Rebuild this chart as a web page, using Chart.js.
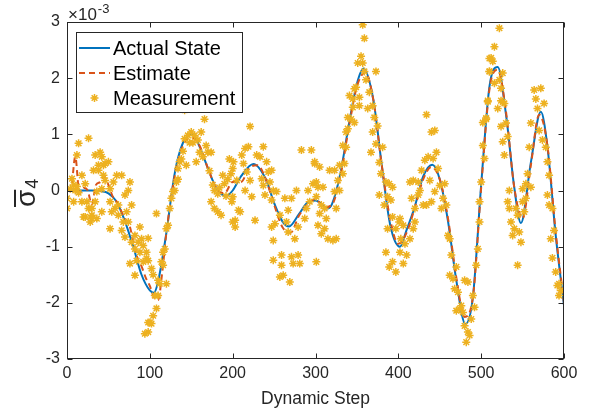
<!DOCTYPE html>
<html lang="en">
<head>
    <meta charset="utf-8">
    <title>State estimate</title>
    <script src="https://cdn.jsdelivr.net/npm/chart.js"></script>
    <style>
        body { margin: 0; background: #fff; }
    </style>
</head>
<body>
    <canvas id="stateChart" width="590" height="418"></canvas>
    <script>
        // values are in units of 1e-3
        const xTicks = [0, 100, 200, 300, 400, 500, 600];
        const yTicks = [-3, -2, -1, 0, 1, 2, 3];
        const legendLabels = ['Actual State', 'Estimate', 'Measurement'];

        const stateSteps = [0, 10, 20, 30, 40, 50, 60, 70, 80, 90, 100, 105, 110, 120, 130, 140, 152, 160, 170, 180,
            192, 200, 210, 225, 240, 250, 260, 268, 280, 290, 300, 315, 320, 330, 340, 350, 358, 370, 380, 390,
            402, 410, 420, 430, 441, 450, 460, 470, 481, 490, 500, 510, 520, 530, 540, 548, 560, 572, 580, 590, 600];
        const stateValues = [0, 0, 0, 0, -0.01, -0.05, -0.2, -0.55, -1.0, -1.5, -1.78, -1.82, -1.62, -0.75, 0.3, 0.85, 1.0, 0.78, 0.4, 0.05,
            -0.1, 0.0, 0.25, 0.47, 0.2, -0.22, -0.55, -0.64, -0.42, -0.22, -0.18, -0.32, -0.24, 0.3, 1.15, 1.9, 2.17, 1.6, 0.45, -0.6,
            -1.0, -0.7, -0.28, 0.25, 0.46, 0.2, -0.55, -1.6, -2.38, -1.9, 0.1, 1.85, 2.2, 1.35, 0.05, -0.58, 0.5, 1.4, 0.78, -0.8, -2.05];

        const estSteps = [0, 5, 10, 15, 20, 25, 30, 35, 40, 45, 50, 55, 60, 65, 70, 75, 80, 85, 90, 95, 100, 105, 110, 115, 120,
            130, 140, 150, 160, 170, 180, 190, 200, 210, 220, 230, 240, 250, 260, 270, 280, 290, 300, 310, 320, 330, 340, 350,
            360, 370, 380, 390, 400, 410, 420, 430, 440, 450, 460, 470, 480, 490, 500, 510, 520, 530, 540, 550, 560, 570, 580, 590, 600];
        const estValues = [0.0, 0.05, 0.6, -0.05, 0.05, 0.0, -0.25, 0.1, 0.15, 0.25, 0.1, -0.1, -0.2, -0.35, -0.5, -0.6, -0.9, -1.2, -1.35, -1.55, -1.7, -1.9, -1.95, -1.45, -0.75,
            0.25, 0.8, 0.95, 0.8, 0.4, 0.05, -0.05, 0.15, 0.15, 0.4, 0.45, 0.2, -0.25, -0.65, -0.75, -0.45, -0.25, -0.15, -0.3, -0.25, 0.25, 1.1, 1.85,
            2.1, 1.6, 0.45, -0.5, -0.95, -0.75, -0.3, 0.2, 0.42, 0.2, -0.5, -1.55, -2.25, -1.9, 0.05, 1.8, 2.15, 1.4, 0.05, -0.5, 0.45, 1.35, 0.8, -0.75, -2.0];

        const measSteps = [
            0, 0, 6, 8, 10, 14, 12, 26, 18, 22, 24, 20, 30, 34, 32, 38, 40, 42, 46, 44, 50, 36, 30, 36, 42, 28, 52, 56, 60, 66,
            76, 74, 70, 58, 62, 52, 66, 70, 88, 78, 82, 84, 88, 76, 82, 92, 98, 94, 98,
            4, 8, 12, 14, 18, 22, 26, 30, 34, 42, 46, 38, 44, 52, 54, 62, 68, 72, 74, 78, 82, 86, 90, 92, 96,
            96, 98, 102, 106, 110, 112, 108, 100, 98, 102, 104, 116, 120, 114, 118, 120, 122, 108, 124, 126, 128, 132, 134, 136, 138,
            142, 146, 150, 154, 162, 166, 142, 144, 156, 160, 170, 174, 168, 178, 182, 190, 188, 196, 200, 174, 178, 182, 186, 200, 200,
            104, 110, 116, 130, 134, 140, 148, 152, 158, 164, 172, 176, 184, 192, 194, 198,
            199, 203, 203, 201, 205, 207, 209, 211, 215, 219, 221, 213, 217, 215, 221, 223, 227, 229, 233, 237, 235, 237, 241, 243, 247,
            239, 245, 249, 253, 247, 247, 249, 249, 251, 257, 259, 259, 261, 257, 263, 267, 265, 267, 269, 271, 271, 273, 275, 279, 281,
            277, 279, 283, 287, 289, 291, 295, 297, 299, 293, 301,
            299, 305, 303, 309, 301, 301, 307, 305, 311, 303, 307, 313, 311, 315, 321, 325, 317, 323, 323, 325, 329, 327, 329, 333, 335,
            333, 337, 339, 337, 339, 343, 345, 347, 341, 347, 349, 345, 353, 353, 351, 355, 357, 359, 361, 357, 359, 363, 365, 369, 373,
            371, 375, 369, 373, 367, 381, 377, 379, 377, 385, 389, 393, 387, 391, 383, 393, 387, 397, 401, 403, 385, 389, 393, 397,
            402, 406, 402, 410, 406, 408, 414, 418, 420, 414, 418, 416, 420, 424, 424, 428, 426, 430, 434, 434, 432, 436, 438, 440, 440,
            444, 442, 446, 444, 448, 450, 452, 454, 456, 458, 460, 462, 464, 462, 466, 468, 470, 472, 470, 474, 476, 478, 480, 484, 480,
            484, 482, 486, 488, 490, 492, 494, 496, 498, 498, 500, 502, 502, 506, 508, 510, 510,
            504, 506, 508, 512, 514, 510, 516, 522, 516, 522, 524, 524, 520, 526, 526, 528, 524, 530, 532, 526, 528, 534, 532, 534, 536,
            538, 540, 542, 544, 546, 548, 544, 550, 552, 550, 554, 554, 556, 558, 560, 560, 564, 566, 568, 572, 570, 574, 576, 578, 580,
            582, 580, 582, 586, 584, 588, 586, 590, 592, 594, 596, 594];
        const measValues = [
            -0.32, -0.14, 0.21, 0.1, 0, 0.84, 0.63, 0.93, 0.27, 0.12, -0.2, -0.47, -0.44, 0.63, 0.36, 0.36, 0.68, 0.6, 0.48, 0.27, 0.51, -0.02, -0.32, -0.5, -0.38, -0.56, -0.2, 0.15, 0.27, 0.27,
            0.15, 0, -0.08, -0.32, -0.44, -0.68, -0.71, -0.83, -0.65, -0.92, -1.04, -1.25, -1.1, -1.3, -1.51, -1.27, -1.25, -2.55, -2.35,
            0.03, -0.2, 0.07, -0.04, -0.2, -0.47, -0.32, -0.5, -0.2, 0.03, 0.18, 0.45, 0.45, 0.03, -0.38, -0.26, -0.56, -0.38, -0.56, -0.26, -0.8, -0.92, -0.86, -0.98, -1.1,
            -1.21, -0.85, -1.39, -1.87, -1.87, -1.66, -2.1, -2.35, -2.52, -2.37, -2.23, -1.33, -1.66, -1.27, -1.04, -0.68, -0.62, -0.41, -0.32, -0.14, -0.02, 0.15, 0.39, 0.51, 0.56,
            0.92, 0.98, 1.04, 0.98, 1.04, 1.27, 1.43, 0.45, 0.51, 0.68, 0.68, 0.68, 0.8, 0.0, -0.06, 0.12, 0.27, 0.56, 0.39, -0.2, -0.32, -0.38, -0.44, -0.56, -0.11,
            -1.5, -1.6, -1.1, 0.0, 0.2, 0.7, 0.85, 0.85, 0.9, 0.6, 0.35, 0.1, 0.05, -0.1, 0.2, 0.3,
            -0.2, -0.53, -0.65, 0.51, 0.18, -0.35, -0.38, 0.63, 0.75, 0.78, 1.14, 0.48, 0.33, 0.0, 0.18, -0.11, -0.53, 0.63, 0.6, 0.78, 0.21, 0.09, 0.51, 0.33, 0.36,
            -0.08, 0.15, 0.0, -0.02, -0.17, -0.65, -0.89, -1.24, -0.59, -0.44, -1.15, -1.33, -1.51, -1.54, -0.14, -0.35, -0.56, -0.74, -1.63, -0.14, -1.18, -1.3, -0.86, -1.15, -1.3,
            0.0, -0.65, 0.72, -0.5, -0.32, 0.0, 0.72, 0.12, 0.48, -0.2, -1.27,
            0.51, 0.42, 0.06, 0.06, 0.15, -0.11, -0.26, -0.41, -0.32, -0.62, -0.77, -0.5, -0.68, -0.86, -0.89, -0.86, 0.36, 0.36, -0.02, -0.32, 0.0, 0.18, 0.45, 0.3, 0.48,
            0.8, 0.77, 1.1, 1.04, 1.3, 1.27, 1.48, 1.21, 1.69, 1.81, 1.84, 1.63, 1.66, 1.51, 2.27, 2.39, 2.27, 2.12, 1.97, 2.95, 2.71, 1.46, 1.75, 1.51, 2.12,
            1.3, 1.15, 1.04, 0.83, 0.68, 0.77, 0.5, 0.3, -0.08, 0.15, 0.12, 0.06, -0.11, -0.17, -0.26, -0.47, -0.68, -0.68, -0.56, -0.86, -1.1, -1.36, -1.27, -1.45,
            -0.5, -0.62, -1.1, -1.15, -1.3, -0.95, -0.86, -0.68, -0.56, 0.15, 0.18, -0.14, -0.32, -0.08, 0.15, 0.36, 0.0, -0.26, -0.26, 1.35, 0.54, 0.6, 0.18, -0.2, 1.04,
            1.07, 0.57, 0.68, -0.02, 0.39, 0.09, -0.32, -0.14, 0.12, -0.26, -0.8, -0.86, -1.15, -1.51, -1.57, -1.75, -1.36, -1.81, -2.14, -2.11, -2.05, -2.17, -1.6, -1.63, -2.41,
            -2.52, -2.7, -2.58, -2.29, -1.87, -2.08, -1.33, -1.04, -0.56, -0.2, 0.15, 0.8, 1.21, 1.27, 1.6, 2.12, 2.35,
            0.57, 1.29, 1.58, 2.36, 2.3, 2.12, 2.56, 2.89, 1.91, 1.97, 1.82, 1.6, 1.46, 2.09, 1.58, 1.55, 1.14, 1.2, 0.96, 0.87, 0.63, 0.0, -0.2, -0.32, -0.56,
            -0.8, -0.68, -0.32, -0.44, -0.74, -0.92, -1.33, -0.2, -0.38, 0.03, 0.12, -0.14, 0.3, 0.77, 0.06, 1.2, 1.79, 1.63, 1.46, 1.82, 1.07, 0.9, 1.55, 0.77, 0.51,
            0.27, -0.08, -0.26, -0.32, -0.86, -0.71, -1.2, -1.45, -1.69, -1.87, -1.78, -1.66];

        const FONT = '"Liberation Sans", Arial, Helvetica, sans-serif';
        const INK = '#262626';
        const colors = ['#0072BD', '#D95319', '#EDB120'];

        function toPoints(xs, ys) {
            return xs.map((x, i) => ({ x: x, y: ys[i] }));
        }

        function drawStar(ctx, x, y, r, color) {
            ctx.save();
            ctx.strokeStyle = color;
            ctx.lineWidth = 1.5;
            ctx.beginPath();
            ctx.moveTo(x - r, y); ctx.lineTo(x + r, y);
            ctx.moveTo(x, y - r); ctx.lineTo(x, y + r);
            const d = r * 0.7071;
            ctx.moveTo(x - d, y - d); ctx.lineTo(x + d, y + d);
            ctx.moveTo(x - d, y + d); ctx.lineTo(x + d, y - d);
            ctx.stroke();
            ctx.restore();
        }

        // box, inward ticks, y label, exponent and the legend, MATLAB style
        const matlabFrame = {
            id: 'matlabFrame',
            afterDraw(chart) {
                const ctx = chart.ctx;
                const a = chart.chartArea;
                const sx = chart.scales.x, sy = chart.scales.y;
                const L = Math.round(a.left) + 0.5, R = Math.round(a.right) - 0.5;
                const T = Math.round(a.top) + 0.5, B = Math.round(a.bottom) - 0.5;
                ctx.save();
                ctx.strokeStyle = INK;
                ctx.lineWidth = 1;
                ctx.strokeRect(L, T, R - L, B - T);
                ctx.beginPath();
                xTicks.forEach(v => {
                    const px = Math.round(sx.getPixelForValue(v)) + 0.5;
                    ctx.moveTo(px, B); ctx.lineTo(px, B - 5);
                    ctx.moveTo(px, T); ctx.lineTo(px, T + 5);
                });
                yTicks.forEach(v => {
                    const py = Math.round(sy.getPixelForValue(v)) + 0.5;
                    ctx.moveTo(L, py); ctx.lineTo(L + 5, py);
                    ctx.moveTo(R, py); ctx.lineTo(R - 5, py);
                });
                ctx.stroke();

                // exponent label
                ctx.fillStyle = INK;
                ctx.textBaseline = 'alphabetic';
                ctx.font = '17px ' + FONT;
                ctx.fillText('\u00d710', 68, 20);
                const ew = ctx.measureText('\u00d710').width;
                ctx.font = '13px ' + FONT;
                ctx.fillText('-3', 68 + ew + 1, 13);

                // y axis label: sigma bar, subscript 4
                ctx.save();
                ctx.translate(35, 207);
                ctx.rotate(-Math.PI / 2);
                ctx.font = '28px ' + FONT;
                ctx.fillText('\u03c3', 0, 0);
                const sw = ctx.measureText('\u03c3').width;
                ctx.fillRect(0, -21, sw, 2);
                ctx.font = '18px ' + FONT;
                ctx.fillText('4', sw + 1, 3);
                ctx.restore();

                // legend box
                const bx = 76.5, by = 32.5, bw = 166, bh = 80;
                ctx.fillStyle = '#ffffff';
                ctx.fillRect(bx, by, bw, bh);
                ctx.strokeStyle = '#262626';
                ctx.strokeRect(bx, by, bw, bh);
                const rows = [48, 73, 98];
                ctx.font = '20px ' + FONT;
                ctx.textBaseline = 'middle';
                legendLabels.forEach((label, i) => {
                    const y = rows[i];
                    if (i < 2) {
                        ctx.save();
                        ctx.strokeStyle = colors[i];
                        ctx.lineWidth = 2;
                        if (i === 1) ctx.setLineDash([6, 4]);
                        ctx.beginPath();
                        ctx.moveTo(79, y); ctx.lineTo(110, y);
                        ctx.stroke();
                        ctx.restore();
                    } else {
                        drawStar(ctx, 94.5, y, 4, colors[2]);
                    }
                    ctx.fillStyle = '#000000';
                    ctx.fillText(label, 113, y + 1);
                });
                ctx.restore();
            }
        };

        const ctx = document.getElementById('stateChart');
        new Chart(ctx, {
            type: 'scatter',
            data: {
                datasets: [
                    {
                        label: legendLabels[0],
                        data: toPoints(stateSteps, stateValues),
                        showLine: true,
                        borderColor: colors[0],
                        borderWidth: 2,
                        pointRadius: 0,
                        cubicInterpolationMode: 'monotone',
                        order: 2
                    },
                    {
                        label: legendLabels[1],
                        data: toPoints(estSteps, estValues),
                        showLine: true,
                        borderColor: colors[1],
                        borderWidth: 2,
                        borderDash: [6, 4],
                        pointRadius: 0,
                        cubicInterpolationMode: 'monotone',
                        order: 1
                    },
                    {
                        label: legendLabels[2],
                        data: toPoints(measSteps, measValues),
                        showLine: false,
                        pointStyle: 'star',
                        pointRadius: 4,
                        borderWidth: 1.5,
                        borderColor: colors[2],
                        backgroundColor: colors[2],
                        order: 0
                    }
                ]
            },
            options: {
                responsive: false,
                animation: false,
                devicePixelRatio: 1,
                layout: { padding: { left: 0, right: 26, top: 22, bottom: 0 } },
                plugins: {
                    legend: { display: false },
                    tooltip: { enabled: false }
                },
                scales: {
                    x: {
                        type: 'linear',
                        min: 0,
                        max: 600,
                        afterBuildTicks: s => { s.ticks = xTicks.map(v => ({ value: v })); },
                        ticks: { color: INK, font: { family: FONT, size: 16 }, padding: 5, maxRotation: 0 },
                        grid: { display: false, drawTicks: false },
                        border: { display: false },
                        title: {
                            display: true,
                            text: 'Dynamic Step',
                            color: INK,
                            font: { family: FONT, size: 17.5 },
                            padding: { top: 0, bottom: 8 }
                        },
                        afterFit: s => { s.height = 59; }
                    },
                    y: {
                        min: -3,
                        max: 3,
                        afterBuildTicks: s => { s.ticks = yTicks.map(v => ({ value: v })); },
                        ticks: { color: INK, font: { family: FONT, size: 16 }, padding: 7 },
                        grid: { display: false, drawTicks: false },
                        border: { display: false },
                        afterFit: s => { s.width = 67; }
                    }
                }
            },
            plugins: [matlabFrame]
        });
    </script>
</body>
</html>
